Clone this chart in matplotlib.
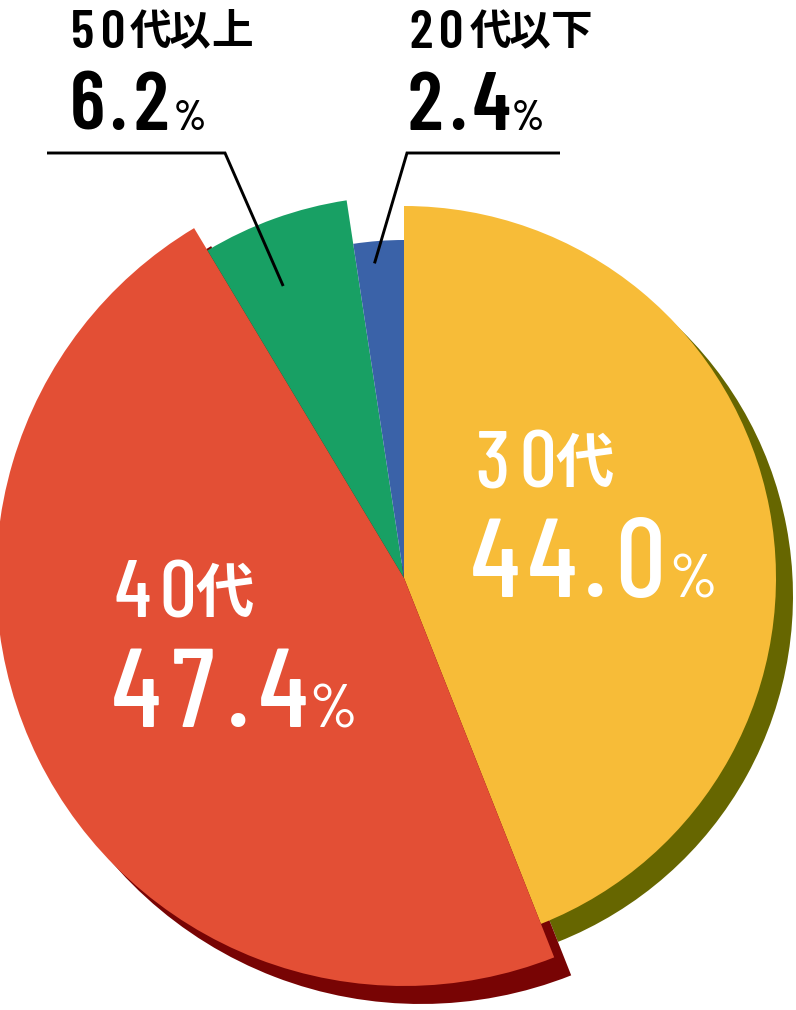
import matplotlib
matplotlib.use('Agg')
import numpy as np
import matplotlib.pyplot as plt

W, H = 796, 1010

# ---- data ----
categories = ['30代', '40代', '50代以上', '20代以下']
shares = [44.0, 47.4, 6.2, 2.4]
value_labels = ['44.0', '47.4', '6.2', '2.4']
colors = ['#F7BC38', '#E34F35', '#18A064', '#3A62A8']
shadow_colors = ['#666600', '#780404', None, None]

# ---- layout / style ----
radii = [372, 408, 382, 338]
shadow_shift = (17, -18)
CX, CY = 404, H - 578
FONT = ['Barlow Condensed', 'Roboto Condensed', 'Oswald', 'Noto Sans CJK JP', 'DejaVu Sans']
KFONT = ['Noto Sans CJK JP', 'DejaVu Sans']

fig = plt.figure(figsize=(W / 100, H / 100), dpi=100)
ax = fig.add_axes([0, 0, 1, 1])

# shadows
sh_wedges, _ = ax.pie(shares, startangle=90, counterclock=False,
                      center=(CX + shadow_shift[0], CY + shadow_shift[1]),
                      radius=1, colors=[c if c else 'none' for c in shadow_colors])
for w, r, c in zip(sh_wedges, radii, shadow_colors):
    w.set_radius(r)
    w.set_visible(c is not None)
    w.set_zorder(1)

# main wedges
wedges, _ = ax.pie(shares, startangle=90, counterclock=False,
                   center=(CX, CY), radius=1, colors=colors)
for w, r in zip(wedges, radii):
    w.set_radius(r)
    w.set_zorder(2)

ax.set_xlim(0, W)
ax.set_ylim(0, H)
ax.set_aspect('equal')
ax.axis('off')


def put(chars, centers, base, sizes, color, kshift=0.0, weight='medium'):
    for ch, x, s in zip(chars, centers, sizes):
        is_k = ord(ch) > 0x2E80
        ax.text(x, H - base + (s * 100 / 72 * kshift if is_k else 0), ch,
                ha='center', va='baseline', fontsize=s, color=color,
                family=KFONT if is_k else FONT,
                fontweight='bold' if is_k else weight, zorder=5)


# inside labels
put(list('30代'), [492, 538, 585], 487, [59, 59, 42], 'white', 0.09)
put(list(value_labels[0]) + ['%'], [495, 552, 595, 640, 693], 597,
    [80, 80, 80, 80, 44], 'white')
put(list('40代'), [133, 178, 225], 617, [59, 59, 42], 'white', 0.09)
put(list(value_labels[1]) + ['%'], [136, 193, 238, 283, 333], 727,
    [80, 80, 80, 80, 44], 'white')

# outside labels
put(list('50代以上'), [82, 113, 150, 190, 232], 48, [39, 39, 30, 30, 30], 'black',
    0.09, 'semibold')
put(list(value_labels[2]) + ['%'], [87, 118, 151, 190], 130, [59, 59, 59, 30], 'black',
    0, 'semibold')
put(list('20代以下'), [421, 451, 490, 530, 572], 48, [39, 39, 30, 30, 30], 'black',
    0.09, 'semibold')
put(list(value_labels[3]) + ['%'], [425, 458, 491, 528], 130, [59, 59, 59, 30], 'black',
    0, 'semibold')

# leader lines into the small wedges
leaders = {2: [(47, 225), H - 153], 3: [(560, 407), H - 153]}
for idx, (xs, yline) in leaders.items():
    w = wedges[idx]
    ang = np.deg2rad(w.theta1 + 0.62 * (w.theta2 - w.theta1))
    ex = CX + 316 * np.cos(ang)
    ey = CY + 316 * np.sin(ang)
    ax.plot([xs[0], xs[1], ex], [yline, yline, ey], color='black', lw=2.1,
            solid_capstyle='butt', solid_joinstyle='miter', zorder=6)

fig.savefig('out.png', dpi=100)
